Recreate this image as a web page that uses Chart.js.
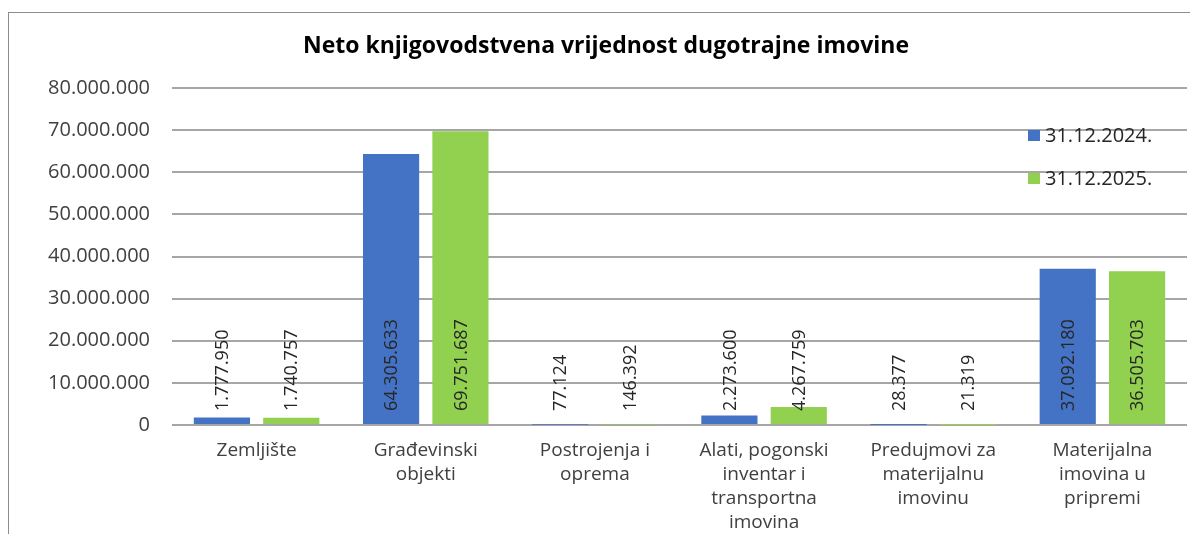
<!DOCTYPE html>
<html>
<head>
<meta charset="utf-8">
<title>Neto knjigovodstvena vrijednost dugotrajne imovine</title>
<script src="https://cdn.jsdelivr.net/npm/chart.js@4/dist/chart.umd.min.js"></script>
<style>
  html, body { margin: 0; padding: 0; background: #fff; }
  canvas { display: block; }
</style>
</head>
<body>
<canvas id="chart" width="1190" height="534"></canvas>
<script>
// Podaci
const kategorije = [
  ['Zemljište'],
  ['Građevinski', 'objekti'],
  ['Postrojenja i', 'oprema'],
  ['Alati, pogonski', 'inventar i', 'transportna', 'imovina'],
  ['Predujmovi za', 'materijalnu', 'imovinu'],
  ['Materijalna', 'imovina u', 'pripremi']
];
const serija2024 = [1777950, 64305633, 77124, 2273600, 28377, 37092180];
const serija2025 = [1740757, 69751687, 146392, 4267759, 21319, 36505703];
const nazivi = ['31.12.2024.', '31.12.2025.'];
const boje = ['#4472C4', '#92D050'];
const naslov = 'Neto knjigovodstvena vrijednost dugotrajne imovine';

const FONT = '"Open Sans", "DejaVu Sans", sans-serif';

function formatBroj(n) {
  return String(n).replace(/\B(?=(\d{3})+(?!\d))/g, '.');
}

// crta naslov, okvir, legendu i oznake vrijednosti
const dodaci = {
  id: 'dodaci',
  beforeDraw(chart) {
    const ctx = chart.ctx;
    ctx.save();
    ctx.fillStyle = '#fff';
    ctx.fillRect(0, 0, chart.width, chart.height);
    ctx.strokeStyle = '#8c8c8c';
    ctx.lineWidth = 1;
    ctx.strokeRect(8.5, 12.5, 1200, 540);
    ctx.restore();
  },
  afterDatasetsDraw(chart) {
    const ctx = chart.ctx;
    ctx.save();

    // oznake vrijednosti
    ctx.fillStyle = '#262626';
    ctx.font = '18px ' + FONT;
    chart.data.datasets.forEach((ds, di) => {
      const meta = chart.getDatasetMeta(di);
      meta.data.forEach((bar, i) => {
        ctx.save();
        ctx.translate(bar.x, bar.base - 13);
        ctx.rotate(-Math.PI / 2);
        ctx.textAlign = 'left';
        ctx.textBaseline = 'middle';
        ctx.fillText(formatBroj(ds.data[i]), 0, 1);
        ctx.restore();
      });
    });

    // naslov
    ctx.fillStyle = '#000';
    ctx.font = 'bold 23px ' + FONT;
    ctx.textAlign = 'center';
    ctx.textBaseline = 'middle';
    ctx.fillText(naslov, 606, 46);

    // legenda
    ctx.font = '20px ' + FONT;
    ctx.textAlign = 'left';
    chart.data.datasets.forEach((ds, di) => {
      const y = 135 + di * 43;
      ctx.fillStyle = ds.backgroundColor;
      ctx.fillRect(1028, y - 5, 12, 11);
      ctx.fillStyle = '#262626';
      ctx.fillText(ds.label, 1045, y + 1);
    });

    ctx.restore();
  }
};

new Chart(document.getElementById('chart'), {
  type: 'bar',
  data: {
    labels: kategorije,
    datasets: [
      { label: nazivi[0], data: serija2024, backgroundColor: boje[0] },
      { label: nazivi[1], data: serija2025, backgroundColor: boje[1] }
    ]
  },
  options: {
    responsive: false,
    animation: false,
    layout: { padding: { left: 0, top: 88, right: 3, bottom: 0 } },
    barPercentage: 0.81,
    categoryPercentage: 0.82,
    plugins: {
      legend: { display: false },
      title: { display: false },
      tooltip: { enabled: false }
    },
    scales: {
      x: {
        grid: { display: false, drawTicks: false },
        border: { display: false },
        ticks: {
          color: '#404040',
          font: { family: FONT, size: 19, lineHeight: 1.25 },
          padding: 14,
          maxRotation: 0,
          autoSkip: false
        },
        afterFit(scale) { scale.height = 109; }
      },
      y: {
        min: 0,
        max: 80000000,
        grid: { color: '#a6a6a6', lineWidth: 2, drawTicks: false },
        border: { display: false },
        ticks: {
          stepSize: 10000000,
          color: '#404040',
          font: { family: FONT, size: 20 },
          padding: 22,
          callback: v => formatBroj(v)
        },
        afterFit(scale) { scale.width = 172; }
      }
    }
  },
  plugins: [dodaci]
});
</script>
</body>
</html>
